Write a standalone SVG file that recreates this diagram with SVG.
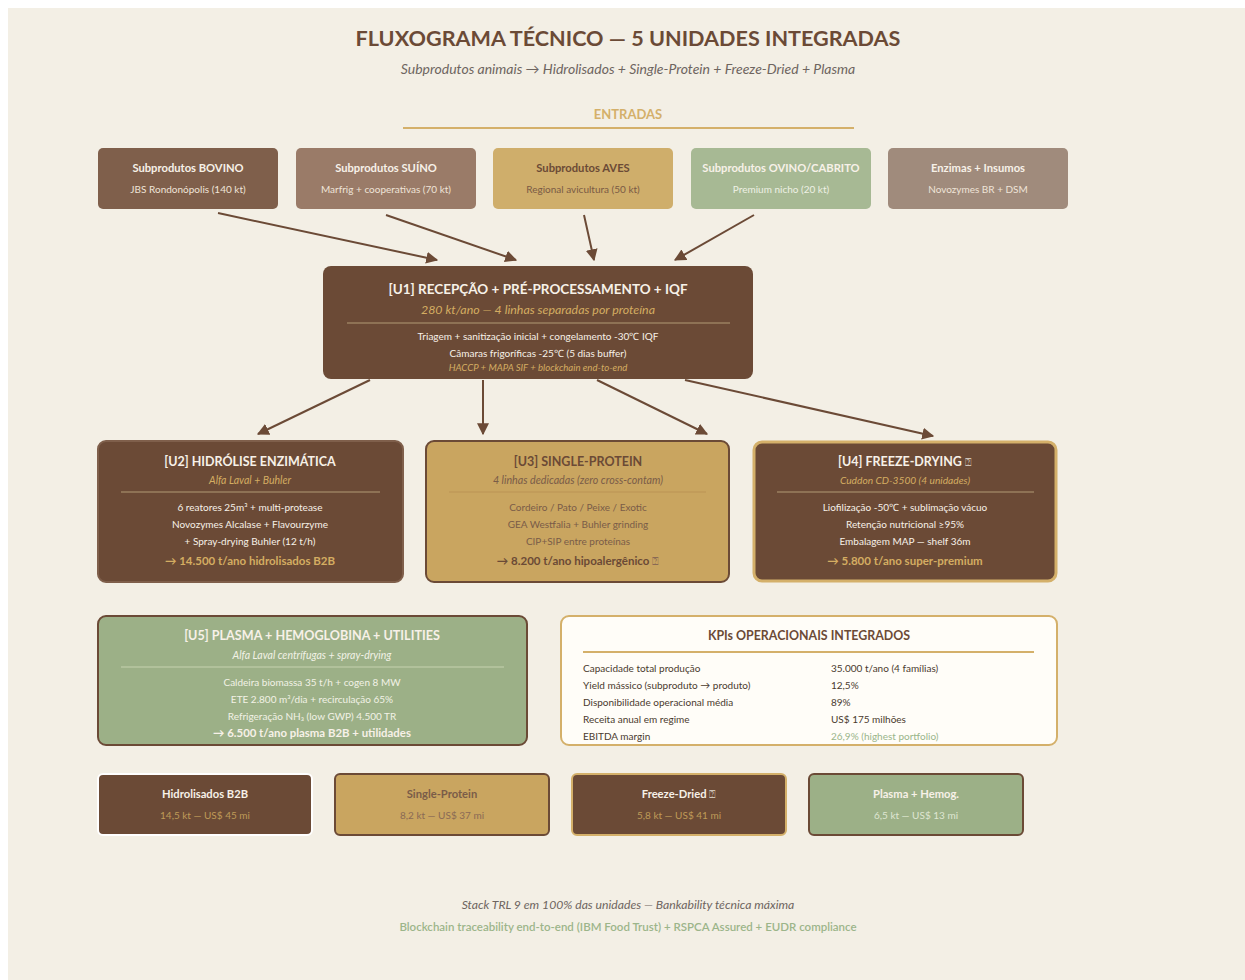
<svg xmlns="http://www.w3.org/2000/svg" width="1245" height="980" viewBox="0 0 1245 980">
<defs>
<marker id="ah" viewBox="0 0 10 10" refX="9" refY="5" markerWidth="6" markerHeight="6" orient="auto" markerUnits="strokeWidth">
<path d="M0,0 L10,5 L0,10 z" fill="#6b4a36"/>
</marker>
<style>
text{font-family:Lato,"Open Sans","Liberation Sans",sans-serif;text-anchor:middle}
.t{font-weight:700;font-size:11.2px}
.s{font-size:10px}
.i{font-style:italic}
.b{font-weight:700}
.w{fill:#f7f1e8}
.g{fill:#d4ad62}
.d{fill:#6b4a36}
.q{font-family:"DejaVu Sans",sans-serif;font-weight:400;font-size:11px}
.conn line{stroke:#6b4a36;stroke-width:2;fill:none;marker-end:url(#ah)}
.kl{text-anchor:start;font-size:10px;fill:#4a3a2e}
</style>
</defs>
<rect width="1245" height="980" fill="#ffffff"/>
<rect x="8" y="8" width="1237" height="972" fill="#f3efe5"/>

<g id="header">
<text x="628" y="46" font-size="21.6" font-weight="700" fill="#6b4a36">FLUXOGRAMA TÉCNICO — 5 UNIDADES INTEGRADAS</text>
<text x="628" y="74" font-size="14" font-style="italic" fill="#6e6560">Subprodutos animais → Hidrolisados + Single-Protein + Freeze-Dried + Plasma</text>
<text x="628" y="119" font-size="13" font-weight="700" fill="#d4b06a">ENTRADAS</text>
<line x1="403" y1="128" x2="854" y2="128" stroke="#d4b06a" stroke-width="2"/>
</g>

<g id="in-bovino">
<rect x="98" y="148" width="180" height="61" rx="5" fill="#7f5f4b"/>
<text x="188" y="172" class="t w">Subprodutos BOVINO</text>
<text x="188" y="193" class="s" fill="#efe4d8">JBS Rondonópolis (140 kt)</text>
</g>
<g id="in-suino">
<rect x="296" y="148" width="180" height="61" rx="5" fill="#9a7b68"/>
<text x="386" y="172" class="t w">Subprodutos SUÍNO</text>
<text x="386" y="193" class="s" fill="#efe4d8">Marfrig + cooperativas (70 kt)</text>
</g>
<g id="in-aves">
<rect x="493" y="148" width="180" height="61" rx="5" fill="#cfae6b"/>
<text x="583" y="172" class="t" fill="#6b4a36">Subprodutos AVES</text>
<text x="583" y="193" class="s" fill="#7a5a45">Regional avicultura (50 kt)</text>
</g>
<g id="in-ovino">
<rect x="691" y="148" width="180" height="61" rx="5" fill="#a7b994"/>
<text x="781" y="172" class="t w">Subprodutos OVINO/CABRITO</text>
<text x="781" y="193" class="s" fill="#eef1e4">Premium nicho (20 kt)</text>
</g>
<g id="in-enzimas">
<rect x="888" y="148" width="180" height="61" rx="5" fill="#a08b7c"/>
<text x="978" y="172" class="t w">Enzimas + Insumos</text>
<text x="978" y="193" class="s" fill="#efe4d8">Novozymes BR + DSM</text>
</g>

<g class="conn" id="connectors">
<line x1="218" y1="213" x2="437" y2="260"/>
<line x1="386" y1="215" x2="516" y2="260"/>
<line x1="584" y1="215" x2="594" y2="260"/>
<line x1="754" y1="215" x2="675" y2="260"/>
<line x1="370" y1="380" x2="258" y2="434"/>
<line x1="483" y1="380" x2="483" y2="434"/>
<line x1="597" y1="380" x2="707" y2="434"/>
<line x1="685" y1="380" x2="933" y2="436"/>
</g>

<g id="u1">
<rect x="323" y="266" width="430" height="113" rx="8" fill="#6b4a36"/>
<text x="538" y="294" font-size="13.5" class="b w">[U1] RECEPÇÃO + PRÉ-PROCESSAMENTO + IQF</text>
<text x="538" y="314" font-size="12.4" class="i g">280 kt/ano — 4 linhas separadas por proteína</text>
<line x1="347" y1="323" x2="730" y2="323" stroke="#9a8060" stroke-width="1.5"/>
<text x="538" y="340" class="s w">Triagem + sanitização inicial + congelamento -30℃ IQF</text>
<text x="538" y="357" class="s w">Câmaras frigoríficas -25℃ (5 dias buffer)</text>
<text x="538" y="371" font-size="9.6" class="i g">HACCP + MAPA SIF + blockchain end-to-end</text>
</g>

<g id="u2">
<rect x="98" y="441" width="305" height="141" rx="8" fill="#6b4a36" stroke="#7f5f4b" stroke-width="2"/>
<text x="250" y="466" font-size="12.5" class="b w">[U2] HIDRÓLISE ENZIMÁTICA</text>
<text x="250" y="484" font-size="10.5" class="i g">Alfa Laval + Buhler</text>
<line x1="121" y1="492" x2="380" y2="492" stroke="#9a8060" stroke-width="1.5"/>
<text x="250" y="511" class="s w">6 reatores 25m³ + multi-protease</text>
<text x="250" y="528" class="s w">Novozymes Alcalase + Flavourzyme</text>
<text x="250" y="545" class="s w">+ Spray-drying Buhler (12 t/h)</text>
<text x="250" y="565" font-size="11.5" class="b g">→ 14.500 t/ano hidrolisados B2B</text>
</g>

<g id="u3">
<rect x="426" y="441" width="303" height="141" rx="8" fill="#c9a560" stroke="#6b4a36" stroke-width="2"/>
<text x="578" y="466" font-size="12.5" class="b d">[U3] SINGLE-PROTEIN</text>
<text x="578" y="484" font-size="10.7" class="i" fill="#7a5c48">4 linhas dedicadas (zero cross-contam)</text>
<line x1="449" y1="492" x2="706" y2="492" stroke="#bf9a58" stroke-width="1.5"/>
<text x="578" y="511" class="s" fill="#7a5c48">Cordeiro / Pato / Peixe / Exotic</text>
<text x="578" y="528" class="s" fill="#7a5c48">GEA Westfalia + Buhler grinding</text>
<text x="578" y="545" class="s" fill="#7a5c48">CIP+SIP entre proteínas</text>
<text x="578" y="565" font-size="11.5" class="b d">→ 8.200 t/ano hipoalergênico <tspan class="q" fill="#8a6a55">⍰</tspan></text>
</g>

<g id="u4">
<rect x="754" y="442" width="302" height="139" rx="8" fill="#6b4a36" stroke="#d4b06a" stroke-width="3"/>
<text x="905" y="466" font-size="12.5" class="b w">[U4] FREEZE-DRYING <tspan class="q" fill="#cfc4b8">⍰</tspan></text>
<text x="905" y="484" font-size="10.2" class="i g">Cuddon CD-3500 (4 unidades)</text>
<line x1="777" y1="492" x2="1034" y2="492" stroke="#9a8060" stroke-width="1.5"/>
<text x="905" y="511" class="s w">Liofilização -50℃ + sublimação vácuo</text>
<text x="905" y="528" class="s w">Retenção nutricional ≥95%</text>
<text x="905" y="545" class="s w">Embalagem MAP — shelf 36m</text>
<text x="905" y="565" font-size="11.5" class="b g">→ 5.800 t/ano super-premium</text>
</g>

<g id="u5">
<rect x="98" y="616" width="429" height="129" rx="8" fill="#9cb087" stroke="#6b4a36" stroke-width="2"/>
<text x="312" y="640" font-size="12.6" class="b w">[U5] PLASMA + HEMOGLOBINA + UTILITIES</text>
<text x="312" y="659" font-size="10.5" class="i" fill="#f2f2e6">Alfa Laval centrífugas + spray-drying</text>
<line x1="121" y1="667" x2="504" y2="667" stroke="#b9c7a2" stroke-width="1.5"/>
<text x="312" y="686" class="s" fill="#f2f2e6">Caldeira biomassa 35 t/h + cogen 8 MW</text>
<text x="312" y="703" class="s" fill="#f2f2e6">ETE 2.800 m³/dia + recirculação 65%</text>
<text x="312" y="720" class="s" fill="#f2f2e6">Refrigeração NH₃ (low GWP) 4.500 TR</text>
<text x="312" y="737" font-size="11.4" class="b w">→ 6.500 t/ano plasma B2B + utilidades</text>
</g>

<g id="kpi">
<rect x="561" y="616" width="496" height="129" rx="8" fill="#fffdf8" stroke="#d4b06a" stroke-width="2"/>
<text x="809" y="640" font-size="12.4" class="b d">KPIs OPERACIONAIS INTEGRADOS</text>
<line x1="583" y1="652" x2="1034" y2="652" stroke="#d4b06a" stroke-width="2"/>
<text x="583" y="672" class="kl">Capacidade total produção</text>
<text x="831" y="672" class="kl">35.000 t/ano (4 famílias)</text>
<text x="583" y="689" class="kl">Yield mássico (subproduto → produto)</text>
<text x="831" y="689" class="kl">12,5%</text>
<text x="583" y="706" class="kl">Disponibilidade operacional média</text>
<text x="831" y="706" class="kl">89%</text>
<text x="583" y="723" class="kl">Receita anual em regime</text>
<text x="831" y="723" class="kl">US$ 175 milhões</text>
<text x="583" y="740" class="kl">EBITDA margin</text>
<text x="831" y="740" class="kl" style="fill:#9ab58a">26,9% (highest portfolio)</text>
</g>

<g id="out-hidro">
<rect x="98" y="774" width="214" height="61" rx="5" fill="#6b4a36" stroke="#ffffff" stroke-width="2"/>
<text x="205" y="798" class="t w">Hidrolisados B2B</text>
<text x="205" y="819" class="s" fill="#bf9a58">14,5 kt — US$ 45 mi</text>
</g>
<g id="out-single">
<rect x="335" y="774" width="214" height="61" rx="5" fill="#c9a560" stroke="#6b4a36" stroke-width="2"/>
<text x="442" y="798" class="t" fill="#7a5c48">Single-Protein</text>
<text x="442" y="819" class="s" fill="#8a6a55">8,2 kt — US$ 37 mi</text>
</g>
<g id="out-freeze">
<rect x="572" y="774" width="214" height="61" rx="5" fill="#6b4a36" stroke="#d4b06a" stroke-width="2"/>
<text x="679" y="798" class="t w">Freeze-Dried <tspan class="q" fill="#cfc4b8">⍰</tspan></text>
<text x="679" y="819" class="s" fill="#bf9a58">5,8 kt — US$ 41 mi</text>
</g>
<g id="out-plasma">
<rect x="809" y="774" width="214" height="61" rx="5" fill="#9cb087" stroke="#6b4a36" stroke-width="2"/>
<text x="916" y="798" class="t w">Plasma + Hemog.</text>
<text x="916" y="819" class="s" fill="#dfe6d2">6,5 kt — US$ 13 mi</text>
</g>

<g id="footer">
<text x="628" y="909" font-size="12.2" font-style="italic" fill="#6e6560">Stack TRL 9 em 100% das unidades — Bankability técnica máxima</text>
<text x="628" y="931" font-size="11.5" font-weight="600" fill="#9cb58a">Blockchain traceability end-to-end (IBM Food Trust) + RSPCA Assured + EUDR compliance</text>
</g>
</svg>
